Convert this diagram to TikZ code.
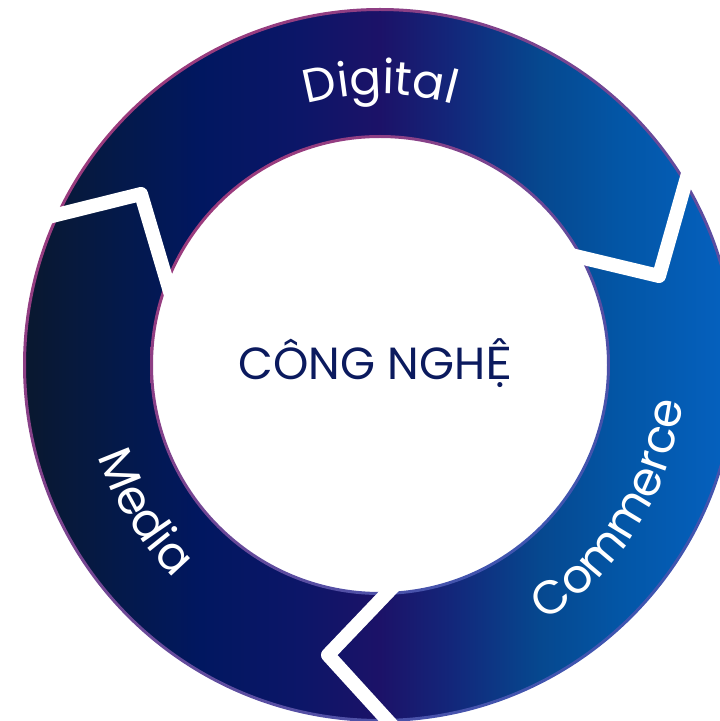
\documentclass[tikz,border=0pt]{standalone}
\usepackage{fontspec}
\usetikzlibrary{decorations.text}
\newfontfamily\labfont{Poppins}
\newfontfamily\midfont{Lato}
\definecolor{g0}{HTML}{0B1828}
\definecolor{g1}{HTML}{04194A}
\definecolor{g2}{HTML}{011760}
\definecolor{g3}{HTML}{0C1668}
\definecolor{g4}{HTML}{1C1268}
\definecolor{g5}{HTML}{13267A}
\definecolor{g6}{HTML}{06488F}
\definecolor{g7}{HTML}{0356A6}
\definecolor{g8}{HTML}{0560BD}
\definecolor{bordA}{HTML}{9B3B7D}
\definecolor{bordB}{HTML}{3F55B0}
\definecolor{navytext}{HTML}{0B1A5E}
\pgfdeclarehorizontalshading{ringshade}{100bp}{color(0bp)=(g0); color(25bp)=(g0); color(33.33bp)=(g1); color(38.89bp)=(g2); color(45.83bp)=(g3); color(51.39bp)=(g4); color(56.25bp)=(g5); color(62.5bp)=(g6); color(68.06bp)=(g7); color(75bp)=(g8); color(100bp)=(g8)}
\begin{document}
\begin{tikzpicture}[x=1pt,y=1pt,
  sepline/.style={draw=white, line width=14pt, line join=round},
  bordshade/.style={top color=bordA, bottom color=bordB, shading angle=45}]
\clip (0,0) rectangle (720,721);
\coordinate (C) at (380,356);
% ring body
\begin{scope}[even odd rule]
  \clip (C) circle[radius=356pt] (C) circle[radius=228pt];
  \shade[shading=ringshade] (0,0) rectangle (720,721);
\end{scope}
% outer border
\begin{scope}[even odd rule]
  \clip (C) circle[radius=357pt] (C) circle[radius=354pt];
  \shade[bordshade] (20,0) rectangle (740,715);
\end{scope}
% inner border
\begin{scope}[even odd rule]
  \clip (C) circle[radius=230pt] (C) circle[radius=227pt];
  \shade[bordshade] (150,126) rectangle (610,586);
\end{scope}
% separators
\coordinate (s1o) at (20,497);
\coordinate (s1c) at (141,527);
\coordinate (s1i) at (176,409);
\coordinate (s2o) at (695,572);
\coordinate (s2c) at (659,445);
\coordinate (s2i) at (546,472);
\coordinate (s3i) at (412,154);
\coordinate (s3c) at (328,66);
\coordinate (s3o) at (420,-35);
\draw[sepline] (s1o) -- (s1c) -- (s1i);
\draw[sepline] (s2o) -- (s2c) -- (s2i);
\draw[sepline] (s3i) -- (s3c) -- (s3o);
% curved labels
\path[decorate, decoration={text along path, text align=center,
  text={|\labfont\fontsize{47}{47}\selectfont\color{white}|Digital}}]
  (C) ++(150:271pt) arc[start angle=150, end angle=30, radius=271pt];
\path[decorate, decoration={text along path, text align=center,
  text={|\labfont\fontsize{47}{47}\selectfont\color{white}|Media}}]
  (C) ++(152:296pt) arc[start angle=152, end angle=272, radius=296pt];
\path[decorate, decoration={text along path, text align=center,
  text={|\labfont\fontsize{47}{47}\selectfont\color{white}|Commerce}}]
  (C) ++(268:305pt) arc[start angle=268, end angle=388, radius=305pt];
% centre text
\node[font=\labfont\fontsize{45}{45}\selectfont, text=navytext, anchor=base, inner sep=0pt] (centre) at (375,341) {CÔNG NGH{\midfont Ệ}};
\end{tikzpicture}
\end{document}
